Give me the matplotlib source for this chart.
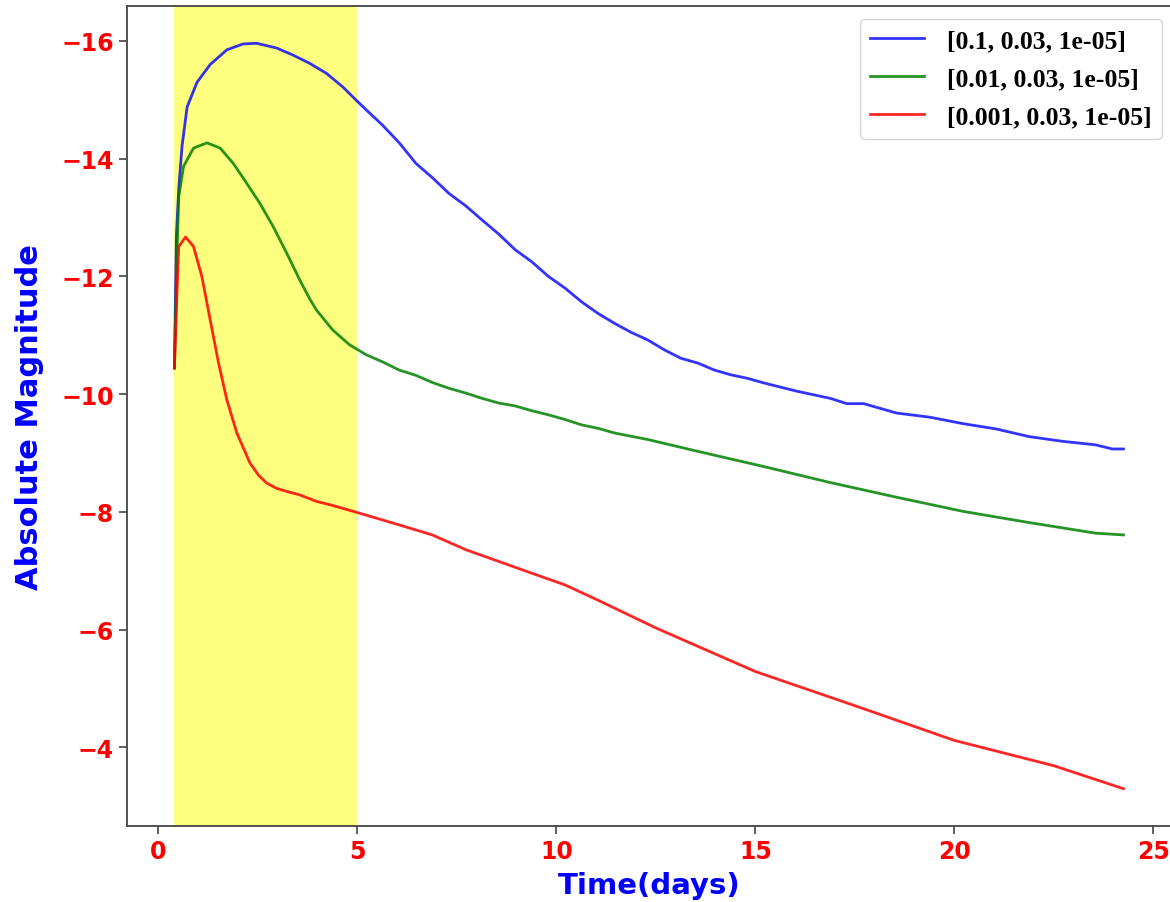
import numpy as np
import matplotlib
matplotlib.use("Agg")
import matplotlib.pyplot as plt

# temps (jours) et magnitudes absolues lues pour chaque jeu de paramètres
t_bleu = [0.4, 0.45, 0.51, 0.59, 0.72, 0.97, 1.3, 1.72, 2.13, 2.47, 2.97, 3.38, 3.8,
          4.22, 4.63, 5.05, 5.22, 5.63, 6.05, 6.47, 6.88, 7.3, 7.72, 8.13, 8.55,
          8.97, 9.38, 9.8, 10.22, 10.63, 11.05, 11.47, 11.88, 12.3, 12.72, 13.13,
          13.55, 13.97, 14.38, 14.8, 15.22, 16.05, 16.88, 17.3, 17.72, 18.55, 19.38,
          20.22, 21.05, 21.88, 22.72, 23.55, 23.97, 24.25]
m_bleu = [-10.45, -12.7, -13.5, -14.2, -14.88, -15.3, -15.6, -15.85, -15.95, -15.96,
          -15.88, -15.76, -15.62, -15.45, -15.22, -14.94, -14.83, -14.57, -14.27,
          -13.92, -13.68, -13.41, -13.2, -12.96, -12.72, -12.45, -12.25, -12.0,
          -11.8, -11.57, -11.37, -11.2, -11.05, -10.92, -10.75, -10.61, -10.53,
          -10.41, -10.33, -10.27, -10.19, -10.05, -9.93, -9.84, -9.84, -9.68, -9.61,
          -9.5, -9.41, -9.28, -9.2, -9.14, -9.07, -9.07]

t_vert = [0.4, 0.47, 0.51, 0.63, 0.88, 1.22, 1.55, 1.88, 2.22, 2.55, 2.88, 3.22, 3.55,
          3.8, 3.97, 4.38, 4.8, 5.22, 5.63, 6.05, 6.47, 6.88, 7.3, 7.72, 8.13, 8.55,
          8.97, 9.38, 9.8, 10.22, 10.63, 11.05, 11.47, 12.3, 13.55, 15.22, 16.88,
          18.55, 20.22, 21.88, 23.55, 24.25]
m_vert = [-10.45, -12.51, -13.36, -13.87, -14.18, -14.27, -14.18, -13.92, -13.58,
          -13.24, -12.85, -12.4, -11.94, -11.62, -11.43, -11.09, -10.84, -10.67,
          -10.55, -10.41, -10.32, -10.2, -10.1, -10.02, -9.93, -9.85, -9.8, -9.72,
          -9.65, -9.57, -9.48, -9.42, -9.34, -9.23, -9.03, -8.77, -8.5, -8.25,
          -8.01, -7.82, -7.64, -7.61]

t_rouge = [0.4, 0.47, 0.51, 0.68, 0.88, 1.09, 1.3, 1.51, 1.72, 1.97, 2.3, 2.52, 2.72,
           2.97, 3.22, 3.55, 3.97, 4.38, 5.05, 6.05, 6.88, 7.72, 8.55, 9.38, 10.22,
           11.05, 12.5, 15.0, 17.5, 20.0, 22.5, 24.25]
m_rouge = [-10.44, -11.83, -12.51, -12.67, -12.51, -12.0, -11.26, -10.53, -9.9, -9.34,
           -8.83, -8.62, -8.49, -8.4, -8.35, -8.29, -8.18, -8.11, -7.98, -7.78,
           -7.61, -7.36, -7.16, -6.96, -6.76, -6.5, -6.03, -5.29, -4.71, -4.12,
           -3.69, -3.3]

etiquettes = ["[0.1, 0.03, 1e-05]", "[0.01, 0.03, 1e-05]", "[0.001, 0.03, 1e-05]"]

fig = plt.figure(figsize=(11.7, 9.03), dpi=100)
ax = fig.add_axes([0.1085, 0.0842, 0.8923, 0.908])

ax.axvspan(0.4, 5, color="yellow", alpha=0.5, lw=0)
ax.plot(t_bleu, m_bleu, color="blue", alpha=0.8, lw=2, label=etiquettes[0])
ax.plot(t_vert, m_vert, color="green", alpha=0.85, lw=2, label=etiquettes[1])
ax.plot(t_rouge, m_rouge, color="red", alpha=0.85, lw=2, label=etiquettes[2])
ax.invert_yaxis()

ax.set_xticks([0, 5, 10, 15, 20, 25])
ax.set_yticks([-16, -14, -12, -10, -8, -6, -4])
ax.tick_params(labelsize=17, labelcolor="red", length=6, width=1.2, color="#444444")
for lab in ax.get_xticklabels() + ax.get_yticklabels():
    lab.set_fontweight("bold")
for sp in ax.spines.values():
    sp.set_color("#444444")
    sp.set_linewidth(1.3)

ax.set_xlabel("Time(days)", fontsize=21, fontweight="bold", color="blue", labelpad=6)
ax.set_ylabel("Absolute Magnitude", fontsize=22, fontweight="bold", color="blue", labelpad=12)

ax.legend(loc="upper right", bbox_to_anchor=(0.9914, 0.984),
          prop={"family": "Liberation Serif", "weight": "bold", "size": 18.5},
          labelspacing=0.58, handlelength=2.1, handletextpad=0.9,
          borderpad=0.4, borderaxespad=0)

plt.savefig("out.png", dpi=100)
